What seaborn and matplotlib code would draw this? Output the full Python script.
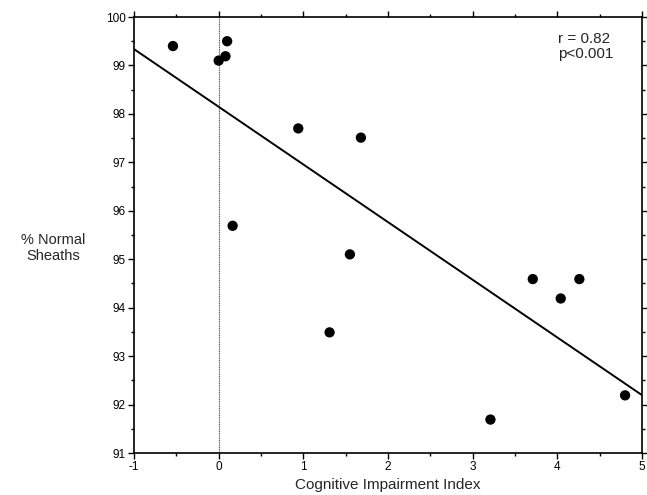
import numpy as np
import pandas as pd
import seaborn as sns
import matplotlib.pyplot as plt

# values
cognitive_index = [-0.54, 0.00, 0.08, 0.10, 0.94, 1.68, 0.165, 1.55, 1.31, 3.21, 4.80, 3.71, 4.26, 4.04]
pct_normal = [99.40, 99.10, 99.19, 99.50, 97.70, 97.51, 95.69, 95.10, 93.49, 91.69, 92.19, 94.59, 94.59, 94.19]
x_ticks = [-1, 0, 1, 2, 3, 4, 5]
y_ticks = [91, 92, 93, 94, 95, 96, 97, 98, 99, 100]

df = pd.DataFrame({"cii": cognitive_index, "normal": pct_normal})

sns.set_style("ticks")
plt.rcParams['font.family'] = ['Liberation Sans', 'DejaVu Sans']
plt.rcParams['axes.unicode_minus'] = False

fig = plt.figure(figsize=(6.47, 4.95), dpi=100)
ax = fig.add_axes([134 / 647, 1 - 453 / 495, 508 / 647, 436 / 495])

ax.set_xlim(-1, 5)
ax.set_ylim(91, 100)

# vertical reference at zero
ax.axvline(0, color="#555555", lw=0.8, ls=(0, (1, 0.6)), zorder=1)

# fitted line spans the whole axis
sns.regplot(data=df, x="cii", y="normal", ax=ax, ci=None, truncate=False,
            scatter=False, line_kws={"color": "black", "lw": 1.4})
sns.scatterplot(data=df, x="cii", y="normal", ax=ax, color="black", s=55,
                edgecolor="none", zorder=3)

ax.set_xlim(-1, 5)
ax.set_ylim(91, 100)
ax.set_xticks(x_ticks)
ax.set_yticks(y_ticks)
ax.set_xticks(np.arange(-1, 5.01, 0.5), minor=True)
ax.set_yticks(np.arange(91, 100.01, 0.5), minor=True)
ax.tick_params(which="both", top=True, right=True, direction="out", width=1, colors="black")
ax.tick_params(which="major", length=4, labelsize=8.5, pad=2)
ax.tick_params(which="minor", length=2.5)

for s in ax.spines.values():
    s.set_linewidth(1.2)
    s.set_color("black")

ax.set_xlabel("Cognitive Impairment Index", fontsize=11, labelpad=3)
ax.set_ylabel("% Normal\nSheaths", fontsize=10.5, rotation=0, ha="center", va="center")
ax.yaxis.set_label_coords(-0.16, 0.47)

ax.text(0.835, 0.965, "r = 0.82\np<0.001", transform=ax.transAxes,
        fontsize=11, va="top", ha="left", linespacing=1.1)

fig.savefig("out.png", dpi=100)
